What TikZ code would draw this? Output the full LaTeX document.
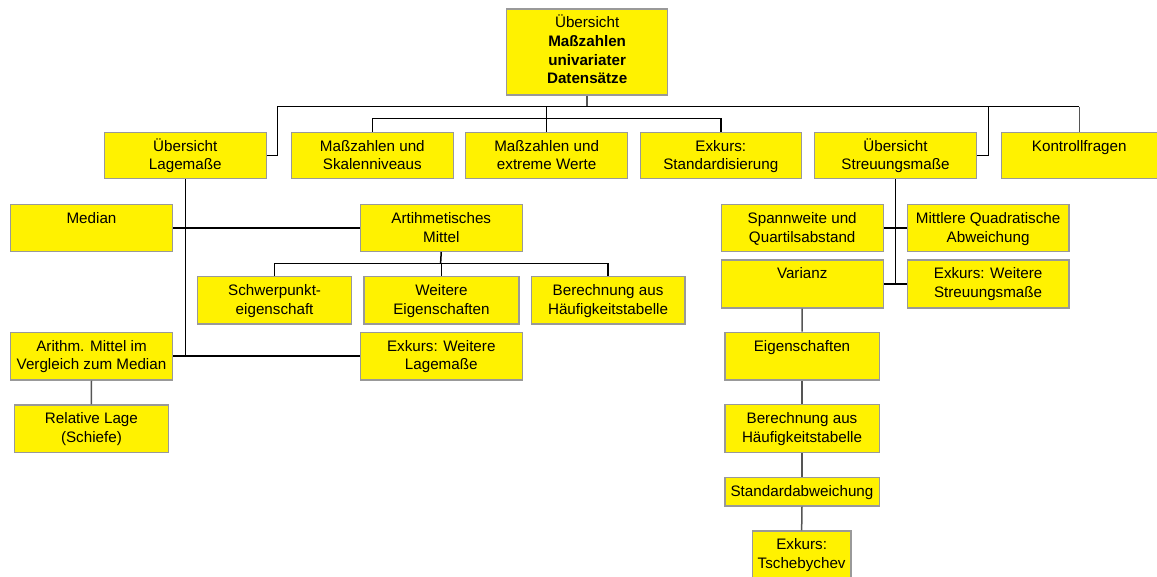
\documentclass[tikz,border=0pt]{standalone}
\usepackage{fontspec}
\setmainfont{Liberation Sans}
\definecolor{boxgray}{HTML}{999999}
\definecolor{linegray}{HTML}{555555}
% box: name, x, y (top-left), width, height, text (set from the top)
\newcommand\bx[6]{%
  \node[box, minimum width=#4pt, minimum height=#5pt] (#1) at (#2,#3)
    {\parbox[c][#5pt][t]{#4pt}{\centering\rule{0pt}{19pt}#6}};}
\begin{document}
\begin{tikzpicture}[x=1pt,y=-1pt,
  box/.style={draw=boxgray, fill=yellow, line width=1.3pt, anchor=north west,
    inner sep=0pt, font=\fontsize{15.2}{18.6}\selectfont},
  link/.style={draw=black, line width=1.5pt},
  glink/.style={draw=linegray, line width=1.5pt}]
\useasboundingbox (0,0) rectangle (1157,577);

% top level
\bx{root}{506}{8.3}{161}{86}{Übersicht\\\textbf{Maßzahlen}\\\textbf{univariater}\\\textbf{Datensätze}}
\bx{lag}{103.6}{131.7}{162}{46.5}{Übersicht\\Lagemaße}
\bx{skal}{290.8}{131.7}{161.7}{46.5}{Maßzahlen und\\Skalenniveaus}
\bx{ext}{465}{131.7}{162}{46.5}{Maßzahlen und\\extreme Werte}
\bx{std}{639.5}{131.7}{161.3}{46.5}{Exkurs:\\Standardisierung}
\bx{streu}{813.8}{131.7}{162}{46.5}{Übersicht\\Streuungsmaße}
\bx{kontr}{1000.6}{131.7}{156}{46.5}{Kontrollfragen}

% Lagemaße branch
\bx{median}{10}{204}{161.7}{46.7}{Median}
\bx{arit}{359.6}{204}{162}{46.7}{Artihmetisches\\Mittel}
\bx{schw}{196.8}{276}{154.3}{47.3}{Schwerpunkt-\\eigenschaft}
\bx{weit}{363.3}{276}{155}{47.3}{Weitere\\Eigenschaften}
\bx{berL}{530.5}{276}{153.8}{47.3}{Berechnung aus\\Häufigkeitstabelle}
\bx{vgl}{10}{331.7}{161.7}{47.6}{Arithm. Mittel im\\Vergleich zum Median}
\bx{exL}{359.6}{331.7}{162}{47.6}{Exkurs: Weitere\\Lagemaße}
\bx{rel}{14}{404.3}{153.6}{47.4}{Relative Lage\\(Schiefe)}

% Streuungsmaße branch
\bx{spann}{720.5}{204}{162.1}{46.7}{Spannweite und\\Quartilsabstand}
\bx{mqa}{906.6}{204}{161.7}{46.7}{Mittlere Quadratische\\Abweichung}
\bx{var}{720.5}{259.3}{162.1}{48}{Varianz}
\bx{exS}{906.6}{259.3}{161.7}{48}{Exkurs: Weitere\\Streuungsmaße}
\bx{eig}{724.2}{331.7}{154.3}{47.6}{Eigenschaften}
\bx{berR}{724.2}{404}{154.3}{47.7}{Berechnung aus\\Häufigkeitstabelle}
\bx{sd}{724.2}{476.7}{154.3}{28.6}{Standardabweichung}
\bx{tsch}{751.6}{530.3}{98.8}{46.5}{Exkurs:\\Tschebychev}

% bus positions
\coordinate (busL) at (277.5,106.7);
\coordinate (busQ) at (988.4,106.7);
\coordinate (bus2) at (546,118.3);
\coordinate (bus3) at (440.6,263.3);

% connectors below the title box
\draw[glink] (root.south) -- (root.south |- busL);
\draw[link] (lag.east) -| (busL) -- (kontr.north |- busL);
\draw[glink] (kontr.north |- busL) -- (kontr.north);
\draw[link] (streu.east) -| (busQ);
\draw[link] (ext.north |- busL) -- (ext.north);
\draw[link] (skal.north) |- (bus2) -| (std.north);

% Lagemaße connectors
\draw[link] (lag.south) -- (lag.south |- vgl.east);
\draw[link] (median.east) -- (arit.west);
\draw[link] (vgl.east) -- (exL.west);
\draw[link] (arit.south) -- (bus3);
\draw[link] (schw.north) |- (bus3) -| (berL.north);
\draw[link] (weit.north |- bus3) -- (weit.north);
\draw[glink] (vgl.south) -- (rel.north);

% Streuungsmaße connectors
\draw[link] (streu.south) -- (streu.south |- var.east);
\draw[link] (spann.east) -- (mqa.west);
\draw[link] (var.east) -- (exS.west);
\draw[glink] (var.south) -- (eig.north);
\draw[glink] (eig.south) -- (berR.north);
\draw[glink] (berR.south) -- (sd.north);
\draw[glink] (sd.south) -- (tsch.north);
\end{tikzpicture}
\end{document}
